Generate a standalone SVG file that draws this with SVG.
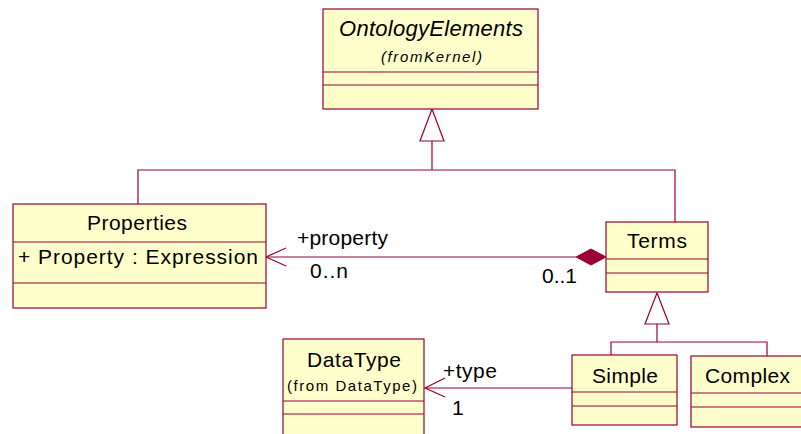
<svg xmlns="http://www.w3.org/2000/svg" width="801" height="434" viewBox="0 0 801 434">
<style>
.box{fill:#FFFFCC;stroke:#990033;stroke-width:1.2}
.ln{fill:none;stroke:#990033;stroke-width:1.2}
text{font-family:"Liberation Sans",Arial,sans-serif;fill:#000}
.t{font-size:21px}
.s{font-size:15px}
</style>
<rect width="801" height="434" fill="#fff"/>
<g id="connectors">
<polyline class="ln" points="432,141 432,170"/>
<polyline class="ln" points="138,205 138,170 675,170 675,222"/>
<polygon class="ln" points="432,109 420,141 444,141" style="fill:#fff"/>
<polyline class="ln" points="657,324 657,342"/>
<polyline class="ln" points="611,355 611,342 767,342 767,357"/>
<polygon class="ln" points="657,293 645,324 669,324" style="fill:#fff"/>
<line class="ln" x1="266" y1="257" x2="576" y2="257"/>
<polyline class="ln" points="286,248 266,257 286,266"/>
<polygon points="576,257 591,249 606,257 591,265" fill="#990033" stroke="#990033"/>
<line class="ln" x1="425" y1="388" x2="572" y2="388"/>
<polyline class="ln" points="445,378 425,388 445,397"/>
<text class="t" x="297" y="245" textLength="91" lengthAdjust="spacing">+property</text>
<text class="t" x="310" y="278" textLength="38" lengthAdjust="spacing">0..n</text>
<text class="t" x="542" y="283" textLength="35" lengthAdjust="spacing">0..1</text>
<text class="t" x="443" y="378" textLength="54" lengthAdjust="spacing">+type</text>
<text class="t" x="452" y="415">1</text>
</g>
<g id="OntologyElements">
<rect class="box" x="323" y="9" width="215" height="100"/>
<line class="ln" x1="323" y1="72" x2="538" y2="72"/>
<line class="ln" x1="323" y1="85" x2="538" y2="85"/>
<text x="339" y="36" font-size="22" font-style="italic" textLength="184" lengthAdjust="spacing">OntologyElements</text>
<text x="381" y="62" font-size="15" font-style="italic" textLength="101" lengthAdjust="spacing">(fromKernel)</text>
</g>
<g id="Properties">
<rect class="box" x="13" y="204" width="253" height="104"/>
<line class="ln" x1="13" y1="242" x2="266" y2="242"/>
<line class="ln" x1="13" y1="283" x2="266" y2="283"/>
<text class="t" x="87" y="230" textLength="100" lengthAdjust="spacing">Properties</text>
<text class="t" x="18" y="264" textLength="240" lengthAdjust="spacing">+ Property : Expression</text>
</g>
<g id="Terms">
<rect class="box" x="606" y="222" width="102" height="70"/>
<line class="ln" x1="606" y1="259" x2="708" y2="259"/>
<line class="ln" x1="606" y1="273" x2="708" y2="273"/>
<text class="t" x="627" y="248" textLength="60" lengthAdjust="spacing">Terms</text>
</g>
<g id="DataType">
<rect class="box" x="283" y="339" width="141" height="100"/>
<line class="ln" x1="283" y1="401" x2="424" y2="401"/>
<line class="ln" x1="283" y1="414" x2="424" y2="414"/>
<text class="t" x="307" y="367" textLength="94" lengthAdjust="spacing">DataType</text>
<text class="s" x="287" y="391" textLength="130" lengthAdjust="spacing">(from DataType)</text>
</g>
<g id="Simple">
<rect class="box" x="572" y="355" width="105" height="70"/>
<line class="ln" x1="572" y1="392" x2="677" y2="392"/>
<line class="ln" x1="572" y1="406" x2="677" y2="406"/>
<text class="t" x="592" y="383" textLength="66" lengthAdjust="spacing">Simple</text>
</g>
<g id="Complex">
<rect class="box" x="691" y="356" width="120" height="71"/>
<line class="ln" x1="691" y1="393" x2="801" y2="393"/>
<line class="ln" x1="691" y1="407" x2="801" y2="407"/>
<text class="t" x="705" y="383" textLength="85" lengthAdjust="spacing">Complex</text>
</g>
</svg>
